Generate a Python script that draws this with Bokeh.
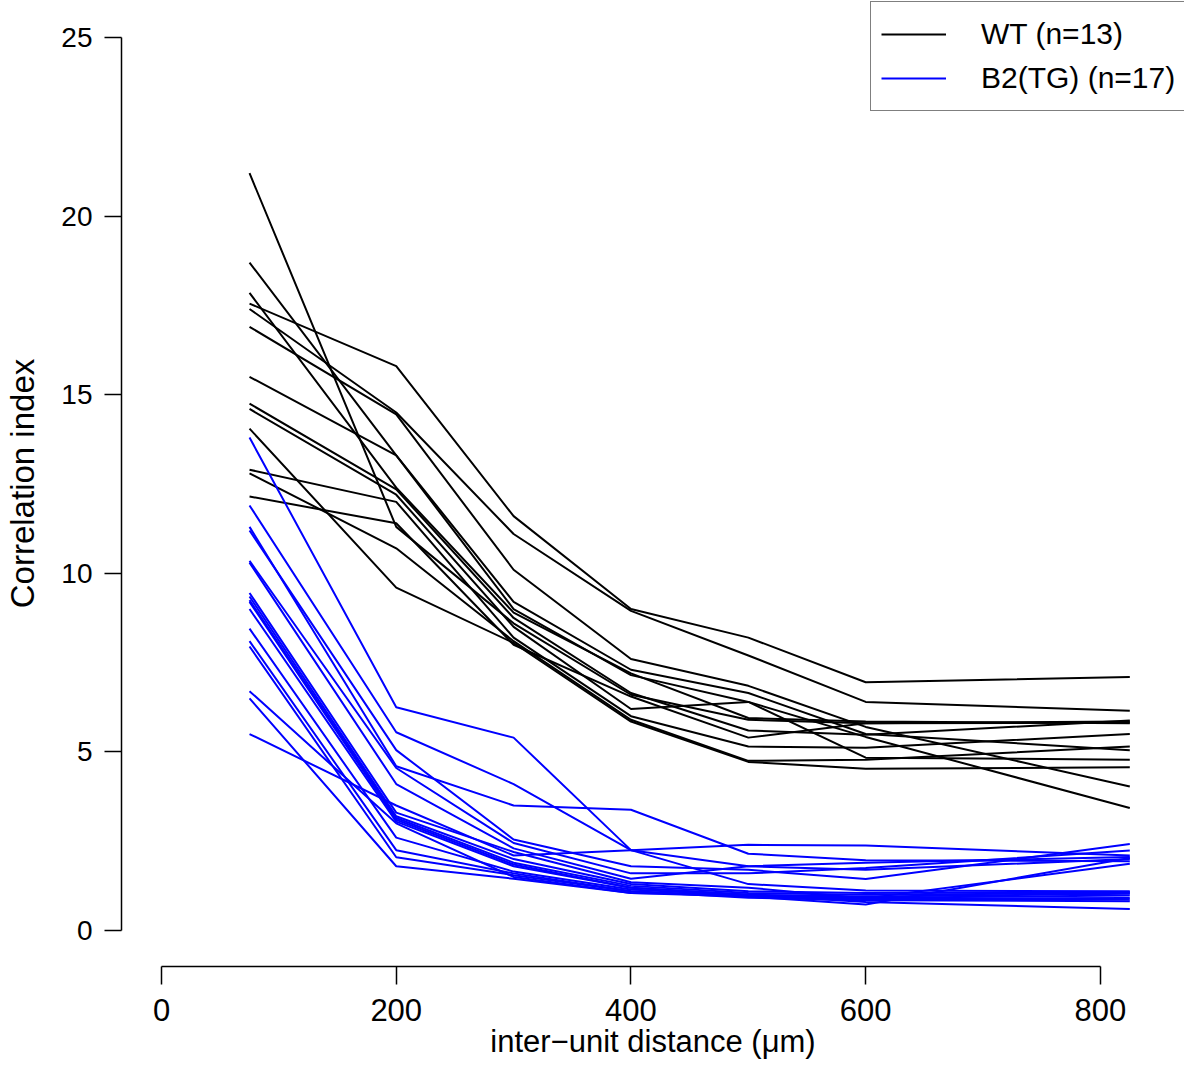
from bokeh.plotting import figure
from bokeh.models import Range1d, Legend, LegendItem, FixedTicker
from bokeh.embed import file_html
from bokeh.resources import INLINE

# ---- data -------------------------------------------------------------
distance = [75, 200, 300, 400, 500, 600, 825]

wt_01 = [21.2, 11.3, 8.6, 6.6, 5.9, 5.8, 5.85]
wt_02 = [18.7, 13.3, 9.2, 7.3, 6.65, 5.5, 5.05]
wt_03 = [17.85, 12.4, 8.9, 7.2, 5.95, 5.85, 5.8]
wt_04 = [17.55, 15.8, 11.6, 9.0, 8.2, 6.95, 7.1]
wt_05 = [17.4, 14.5, 11.1, 8.95, 7.7, 6.4, 6.15]
wt_06 = [16.9, 14.45, 10.1, 7.6, 6.85, 5.7, 4.03]
wt_07 = [15.5, 13.3, 9.0, 7.15, 6.4, 5.42, 3.43]
wt_08 = [14.75, 12.35, 8.75, 6.65, 5.6, 5.48, 5.88]
wt_09 = [14.6, 12.2, 8.5, 6.2, 6.4, 4.84, 4.78]
wt_10 = [14.05, 9.6, 8.05, 5.85, 4.72, 4.53, 4.57]
wt_11 = [12.9, 12.0, 8.2, 6.0, 5.15, 5.12, 5.5]
wt_12 = [12.8, 10.7, 8.1, 5.9, 4.75, 4.78, 5.15]
wt_13 = [12.15, 11.4, 8.0, 6.55, 5.4, 5.8, 5.82]
wt_series = [wt_01, wt_02, wt_03, wt_04, wt_05, wt_06, wt_07,
             wt_08, wt_09, wt_10, wt_11, wt_12, wt_13]

tg_01 = [13.8, 6.25, 5.4, 2.25, 1.3, 1.12, 1.1]
tg_02 = [11.9, 5.55, 4.1, 2.25, 1.8, 1.7, 2.0]
tg_03 = [11.3, 4.6, 3.5, 3.38, 2.15, 1.97, 1.94]
tg_04 = [11.2, 5.05, 2.55, 1.8, 1.7, 1.44, 2.42]
tg_05 = [10.35, 4.55, 2.45, 1.6, 1.6, 1.75, 2.24]
tg_06 = [10.3, 4.1, 2.3, 1.45, 1.8, 1.9, 2.06]
tg_07 = [9.45, 3.3, 2.2, 1.35, 1.2, 0.9, 1.87]
tg_08 = [9.35, 3.2, 2.0, 1.3, 1.1, 1.05, 1.08]
tg_09 = [9.25, 3.15, 1.9, 1.25, 1.05, 1.0, 1.05]
tg_10 = [9.2, 3.1, 1.85, 1.2, 1.0, 0.95, 1.03]
tg_11 = [9.0, 3.05, 1.8, 1.2, 1.0, 0.92, 0.98]
tg_12 = [8.45, 2.6, 1.65, 1.15, 0.98, 0.9, 0.91]
tg_13 = [8.1, 2.25, 1.6, 1.1, 0.95, 0.88, 0.87]
tg_14 = [7.95, 2.05, 1.55, 1.1, 0.92, 0.85, 0.82]
tg_15 = [6.7, 3.0, 1.5, 1.05, 1.0, 0.8, 0.6]
tg_16 = [6.5, 1.8, 1.45, 1.05, 0.95, 0.73, 2.03]
tg_17 = [5.5, 3.5, 2.1, 2.25, 2.4, 2.38, 2.1]
tg_series = [tg_01, tg_02, tg_03, tg_04, tg_05, tg_06, tg_07, tg_08, tg_09,
             tg_10, tg_11, tg_12, tg_13, tg_14, tg_15, tg_16, tg_17]

x_ticks = [0, 200, 400, 600, 800]
y_ticks = [0, 5, 10, 15, 20, 25]
wt_label = "WT (n=13)"
tg_label = "B2(TG) (n=17)"
x_title = "inter\u2212unit distance (\u03bcm)"
y_title = "Correlation index"

FONT = "Liberation Sans"

# ---- figure -----------------------------------------------------------
p = figure(width=1184, height=1061, output_backend="svg", toolbar_location=None,
           x_range=Range1d(-34.08, 871.6), y_range=Range1d(-1.007, 26.035),
           min_border_left=121, min_border_right=0, min_border_top=0,
           min_border_bottom=94, x_axis_label=x_title, y_axis_label=y_title)
p.outline_line_color = None
p.grid.visible = False
p.background_fill_color = "white"
p.border_fill_color = "white"

for ax in (p.xaxis[0], p.yaxis[0]):
    ax.axis_line_width = 1.5
    ax.axis_line_color = "black"
    ax.major_tick_line_width = 1.5
    ax.major_tick_line_color = "black"
    ax.major_tick_in = 0
    ax.minor_tick_line_color = None
    ax.major_label_text_font = FONT
    ax.major_label_text_color = "black"
    ax.axis_label_text_font = FONT
    ax.axis_label_text_font_style = "normal"
    ax.axis_label_text_color = "black"

p.xaxis.major_label_text_font_size = "31px"
p.yaxis.major_label_text_font_size = "28px"
p.xaxis.axis_label_text_font_size = "31px"
p.yaxis.axis_label_text_font_size = "33px"
p.xaxis.bounds = (0, 800)
p.yaxis.bounds = (0, 25)
p.xaxis.ticker = FixedTicker(ticks=x_ticks)
p.yaxis.ticker = FixedTicker(ticks=y_ticks)
p.yaxis.major_label_orientation = "horizontal"
p.yaxis.major_tick_out = 17
p.xaxis.major_tick_out = 18
p.yaxis.major_label_standoff = 12
p.xaxis.major_label_standoff = 14
p.yaxis.axis_label_standoff = 17
p.xaxis.axis_label_standoff = 0

wt_r = []
for s in wt_series:
    wt_r.append(p.line(distance, s, line_color="black", line_width=2))
tg_r = []
for s in tg_series:
    tg_r.append(p.line(distance, s, line_color="#0000FF", line_width=2))

legend = Legend(items=[LegendItem(label=wt_label, renderers=[wt_r[0]]),
                       LegendItem(label=tg_label, renderers=[tg_r[0]])],
                location=(749, 855))
legend.border_line_color = "black"
legend.border_line_width = 1.5
legend.background_fill_alpha = 1.0
legend.label_text_font = FONT
legend.label_text_font_size = "30px"
legend.label_text_color = "black"
legend.glyph_width = 65
legend.glyph_height = 44
legend.label_height = 44
legend.label_standoff = 35
legend.padding = 10
legend.spacing = 0
legend.margin = 0
p.add_layout(legend)

open("out.html", "w").write(file_html(p, INLINE))
